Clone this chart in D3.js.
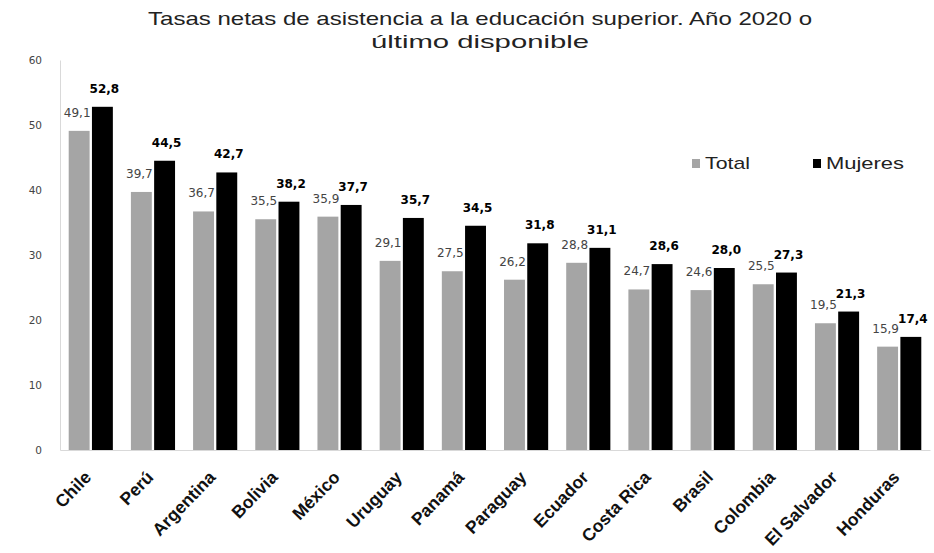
<!DOCTYPE html>
<html>
<head>
<meta charset="utf-8">
<script src="https://cdn.jsdelivr.net/npm/d3@7"></script>
<style>
  body { margin: 0; background: #fff; }
  svg { display: block; font-family: "Liberation Sans", Arial, sans-serif; }
</style>
</head>
<body>
<svg id="chart" width="934" height="553"></svg>
<script>
const countries = ['Chile', 'Perú', 'Argentina', 'Bolivia', 'México', 'Uruguay', 'Panamá',
  'Paraguay', 'Ecuador', 'Costa Rica', 'Brasil', 'Colombia', 'El Salvador', 'Honduras']
const total = [49.1, 39.7, 36.7, 35.5, 35.9, 29.1, 27.5, 26.2, 28.8, 24.7, 24.6, 25.5, 19.5, 15.9]
const mujeres = [52.8, 44.5, 42.7, 38.2, 37.7, 35.7, 34.5, 31.8, 31.1, 28.6, 28.0, 27.3, 21.3, 17.4]
const yTicks = [0, 10, 20, 30, 40, 50, 60]
const seriesNames = ['Total', 'Mujeres']

const colors = { Total: '#a5a5a5', Mujeres: '#000000' }
const margin = { top: 60, left: 60, bottom: 103, right: 4 }
const width = 934, height = 553
const innerwidth = width - margin.left - margin.right
const innerheight = height - margin.top - margin.bottom

const fmt = (v) => v.toFixed(1).replace('.', ',')

const svg = d3.select('#chart')

// titulo (la imagen original está estirada a lo ancho)
svg.append('text')
  .attr('x', 480).attr('y', 25)
  .attr('text-anchor', 'middle')
  .attr('font-size', '19px')
  .attr('fill', '#222')
  .attr('textLength', 664)
  .attr('lengthAdjust', 'spacingAndGlyphs')
  .text('Tasas netas de asistencia a la educación superior. Año 2020 o')
svg.append('text')
  .attr('x', 480).attr('y', 48)
  .attr('text-anchor', 'middle')
  .attr('font-size', '19px')
  .attr('fill', '#222')
  .attr('textLength', 218)
  .attr('lengthAdjust', 'spacingAndGlyphs')
  .text('último disponible')

const canvas = svg.append('g')
  .attr('transform', `translate(${margin.left},${margin.top})`)

const xScale = d3.scaleBand().domain(countries).range([0, innerwidth]).paddingInner(0.29).paddingOuter(0.14)
const xInner = d3.scaleBand().domain(seriesNames).range([0, xScale.bandwidth()]).paddingInner(0.1)
const yScale = d3.scaleLinear().domain([0, 60]).range([innerheight, 0])

// eje y
const yAxis = d3.axisLeft(yScale).tickValues(yTicks).tickSize(0).tickPadding(18)
const yAxisGroup = canvas.append('g').call(yAxis)
yAxisGroup.select('.domain').attr('stroke', '#d9d9d9')
yAxisGroup.selectAll('text').attr('font-size', '10.5px').attr('fill', '#444')
  .attr('font-family', '"DejaVu Sans", sans-serif')

// eje x
const xAxis = d3.axisBottom(xScale).tickSize(0)
const xAxisGroup = canvas.append('g')
  .attr('transform', `translate(0,${innerheight})`)
  .call(xAxis)
xAxisGroup.select('.domain').attr('stroke', '#d9d9d9')
xAxisGroup.selectAll('text')
  .attr('font-size', '17.5px')
  .attr('font-weight', 'bold')
  .attr('fill', '#111')
  .attr('text-anchor', 'end')
  .attr('y', 0)
  .attr('dy', '0.35em')
  .attr('transform', 'translate(-3,24) rotate(-46)')

const data = countries.map((c, i) => ({ name: c, Total: total[i], Mujeres: mujeres[i] }))

const groups = canvas.selectAll('.grp')
  .data(data)
  .enter()
  .append('g')
  .attr('class', 'grp')
  .attr('transform', (d) => `translate(${xScale(d.name)},0)`)

groups.selectAll('rect')
  .data((d) => seriesNames.map((s) => ({ key: s, value: d[s] })))
  .enter()
  .append('rect')
  .attr('x', (d) => xInner(d.key))
  .attr('width', xInner.bandwidth())
  .attr('y', (d) => yScale(d.value))
  .attr('height', (d) => innerheight - yScale(d.value))
  .attr('fill', (d) => colors[d.key])

// valores
groups.selectAll('.value')
  .data((d) => seriesNames.map((s) => ({ key: s, value: d[s] })))
  .enter()
  .append('text')
  .attr('class', 'value')
  .attr('x', (d) => xInner(d.key) + xInner.bandwidth() / 2 + (d.key === 'Total' ? -2 : 2))
  .attr('y', (d) => yScale(d.value) - 14)
  .attr('text-anchor', 'middle')
  .attr('font-size', '12px')
  .attr('font-family', '"DejaVu Sans", sans-serif')
  .attr('font-weight', (d) => d.key === 'Mujeres' ? 'bold' : 'normal')
  .attr('fill', (d) => d.key === 'Mujeres' ? '#000' : '#444')
  .text((d) => fmt(d.value))

// leyenda
const legend = svg.append('g').attr('transform', 'translate(692,159)')
const legendX = [0, 121]
const legendLen = [45, 78]
seriesNames.forEach((s, i) => {
  const g = legend.append('g').attr('transform', `translate(${legendX[i]},0)`)
  g.append('rect').attr('width', 8).attr('height', 9).attr('fill', colors[s])
  g.append('text').attr('x', 13).attr('y', 10)
    .attr('font-size', '17px').attr('fill', '#222')
    .attr('textLength', legendLen[i])
    .attr('lengthAdjust', 'spacingAndGlyphs')
    .text(s)
})
</script>
</body>
</html>
